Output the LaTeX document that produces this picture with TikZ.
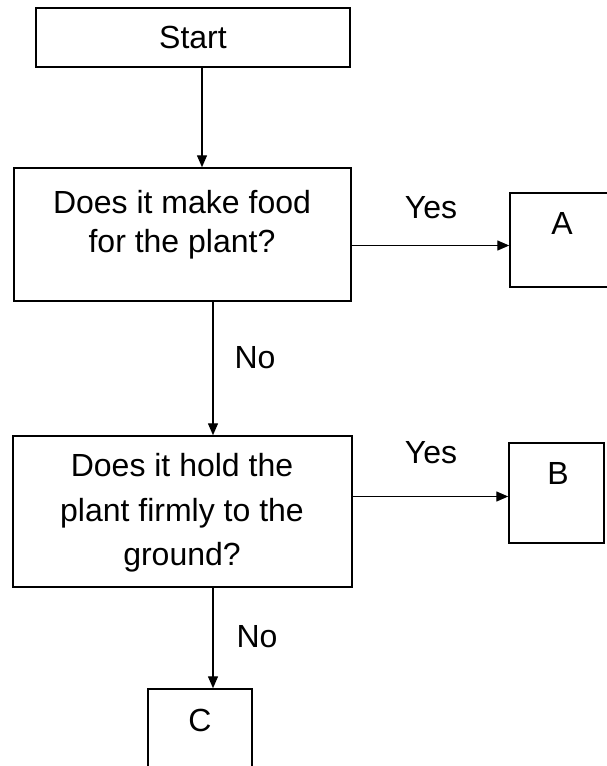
\documentclass[tikz,border=0pt]{standalone}
\usepackage{fontspec}
\setmainfont{Liberation Sans}
\usetikzlibrary{arrows.meta}

\begin{document}
\begin{tikzpicture}[x=1pt,y=1pt,
    every node/.style={inner sep=0pt,font=\fontsize{32}{39}\selectfont},
    box/.style n args={2}{draw=black,line width=1.5pt,minimum width=#1,minimum height=#2},
    flow/.style={draw=black,line width=1.4pt,-{Triangle[length=12pt,width=10pt]}}]
              \useasboundingbox (0,0) rectangle (607,-766);
              \clip (0,0) rectangle (607,-766);
              % boxes
              \node [box={314}{59}] (start) at (193,-37.5) {Start};
              \node [box={337}{133}] (q1) at (182.5,-234.5) {};
              \node [align=center] (q1text) at (182,-224.5) {Does it make food\\for the plant?};
              \node [box={339}{151}] (q2) at (182.5,-511.5) {};
              \node [align=center,font=\fontsize{32}{44.5}\selectfont] (q2text) at (182,-513) {Does it hold the\\plant firmly to the\\ground?};
              \node [box={140}{94}] (boxA) at (580,-240) {};
              \draw (562,-223.4) node (Atext) {A};
              \node [box={95}{100}] (boxB) at (556.5,-493) {};
              \draw (558,-473) node (Btext) {B};
              \node [box={104}{122}] (boxC) at (200,-750) {};
              \draw (200,-720) node (Ctext) {C};
              % arrows
              \draw [flow] ([xshift=9pt]start.south) -- ([xshift=9pt]start.south |- q1.north);
              \draw [flow] ([yshift=-11pt]q1.east) -- ([yshift=-11pt]q1.east -| boxA.west);
              \draw [flow] ([xshift=30.5pt]q1.south) -- ([xshift=30.5pt]q1.south |- q2.north);
              \draw [flow] ([yshift=15pt]q2.east) -- ([yshift=15pt]q2.east -| boxB.west);
              \draw [flow] ([xshift=30.5pt]q2.south) -- ([xshift=30.5pt]q2.south |- boxC.north);
              % labels
              \draw (431,-208) node (yes1) {Yes};
              \draw (431,-453) node (yes2) {Yes};
              \draw (255,-357.5) node (no1) {No};
              \draw (257,-637) node (no2) {No};
            \end{tikzpicture}
\end{document}
